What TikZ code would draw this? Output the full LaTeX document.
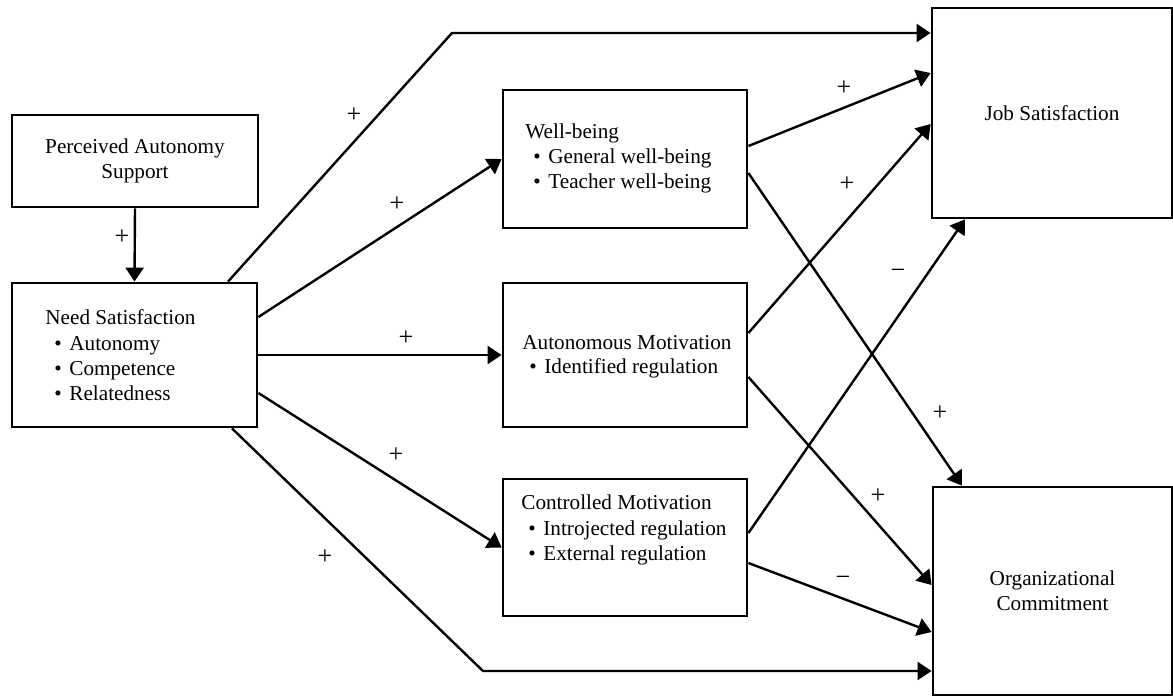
\documentclass[tikz,border=0pt]{standalone}
\usepackage{fontspec}
\setmainfont{Liberation Serif}
\usetikzlibrary{arrows.meta}
\newcommand\diafont{\fontsize{10.6pt}{12.5pt}\selectfont}
\newcommand\signfont{\fontsize{13pt}{14pt}\selectfont}
\begin{document}
\begin{tikzpicture}[x=0.5pt,y=-0.5pt,
  box/.style={draw, line width=1.4pt, inner sep=0pt, align=center, font=\diafont},
  txt/.style={anchor=base west, inner sep=0pt, font=\diafont},
  sign/.style={inner sep=0pt, font=\signfont},
  arr/.style={line width=1.2pt, -{Triangle[length=7pt,width=9pt]}}]
\useasboundingbox (0,0) rectangle (1173,698);
% boxes
\node[box, minimum width=123pt, minimum height=46pt] (pas) at (135,161) {Perceived Autonomy\\Support};
\node[box, minimum width=122.5pt, minimum height=72pt] (ns) at (134.5,355) {};
\node[box, minimum width=122pt, minimum height=69pt] (wb) at (625,159) {};
\node[box, minimum width=122pt, minimum height=72pt] (am) at (625,355) {};
\node[box, minimum width=122pt, minimum height=68.5pt] (cm) at (625,547.5) {};
\node[box, minimum width=120pt, minimum height=105pt] (js) at (1052,113) {Job Satisfaction};
\node[box, minimum width=119.5pt, minimum height=104pt] (oc) at (1052.5,591) {Organizational\\Commitment};
% box texts
\node[txt] (ns1) at (45,324) {Need Satisfaction};
\node[txt] (ns2) at (54,350) {\textbullet\hspace{3.8pt}Autonomy};
\node[txt] (ns3) at (54,375) {\textbullet\hspace{3.8pt}Competence};
\node[txt] (ns4) at (54,400) {\textbullet\hspace{3.8pt}Relatedness};
\node[txt] (wb1) at (525,138) {Well-being};
\node[txt] (wb2) at (533,163) {\textbullet\hspace{3.8pt}General well-being};
\node[txt] (wb3) at (533,188) {\textbullet\hspace{3.8pt}Teacher well-being};
\node[txt] (am1) at (522,349) {Autonomous Motivation};
\node[txt] (am2) at (529,373) {\textbullet\hspace{3.8pt}Identified regulation};
\node[txt] (cm1) at (521,509) {Controlled Motivation};
\node[txt] (cm2) at (528,535) {\textbullet\hspace{3.8pt}Introjected regulation};
\node[txt] (cm3) at (528,560) {\textbullet\hspace{3.8pt}External regulation};
% connectors
\coordinate (tc) at (452,33);
\coordinate (bc) at (483,671);
\draw[arr] (pas.south) -- (ns.north);
\draw[arr] ([xshift=46.75pt]ns.north) -- (tc) -- (tc -| js.west);
\draw[arr] ([yshift=19pt]ns.east) -- (wb.west);
\draw[arr] (ns.east) -- (am.west);
\draw[arr] ([yshift=-19pt]ns.east) -- (cm.west);
\draw[arr] ([xshift=48.75pt]ns.south) -- (bc) -- (bc -| oc.west);
\draw[arr] ([yshift=6.5pt]wb.east) -- ([yshift=20pt]js.west);
\draw[arr] ([yshift=-7pt]wb.east) -- ([xshift=-45.25pt]oc.north);
\draw[arr] ([yshift=11pt]am.east) -- ([yshift=-5.5pt]js.west);
\draw[arr] ([yshift=-11pt]am.east) -- ([yshift=3pt]oc.west);
\draw[arr] ([yshift=7.25pt]cm.east) -- ([xshift=-43.5pt]js.south);
\draw[arr] ([yshift=-7.75pt]cm.east) -- ([yshift=-20.5pt]oc.west);
% signs
\node[sign] (s1) at (122,237) {+};
\node[sign] (s2) at (354,115) {+};
\node[sign] (s3) at (397,204) {+};
\node[sign] (s4) at (406,338) {+};
\node[sign] (s5) at (396,455) {+};
\node[sign] (s6) at (325,557) {+};
\node[sign] (s7) at (844,88) {+};
\node[sign] (s8) at (847,184) {+};
\node[sign] (s9) at (898,274) {−};
\node[sign] (s10) at (940,413) {+};
\node[sign] (s11) at (878,496) {+};
\node[sign] (s12) at (843,581) {−};
\end{tikzpicture}
\end{document}
